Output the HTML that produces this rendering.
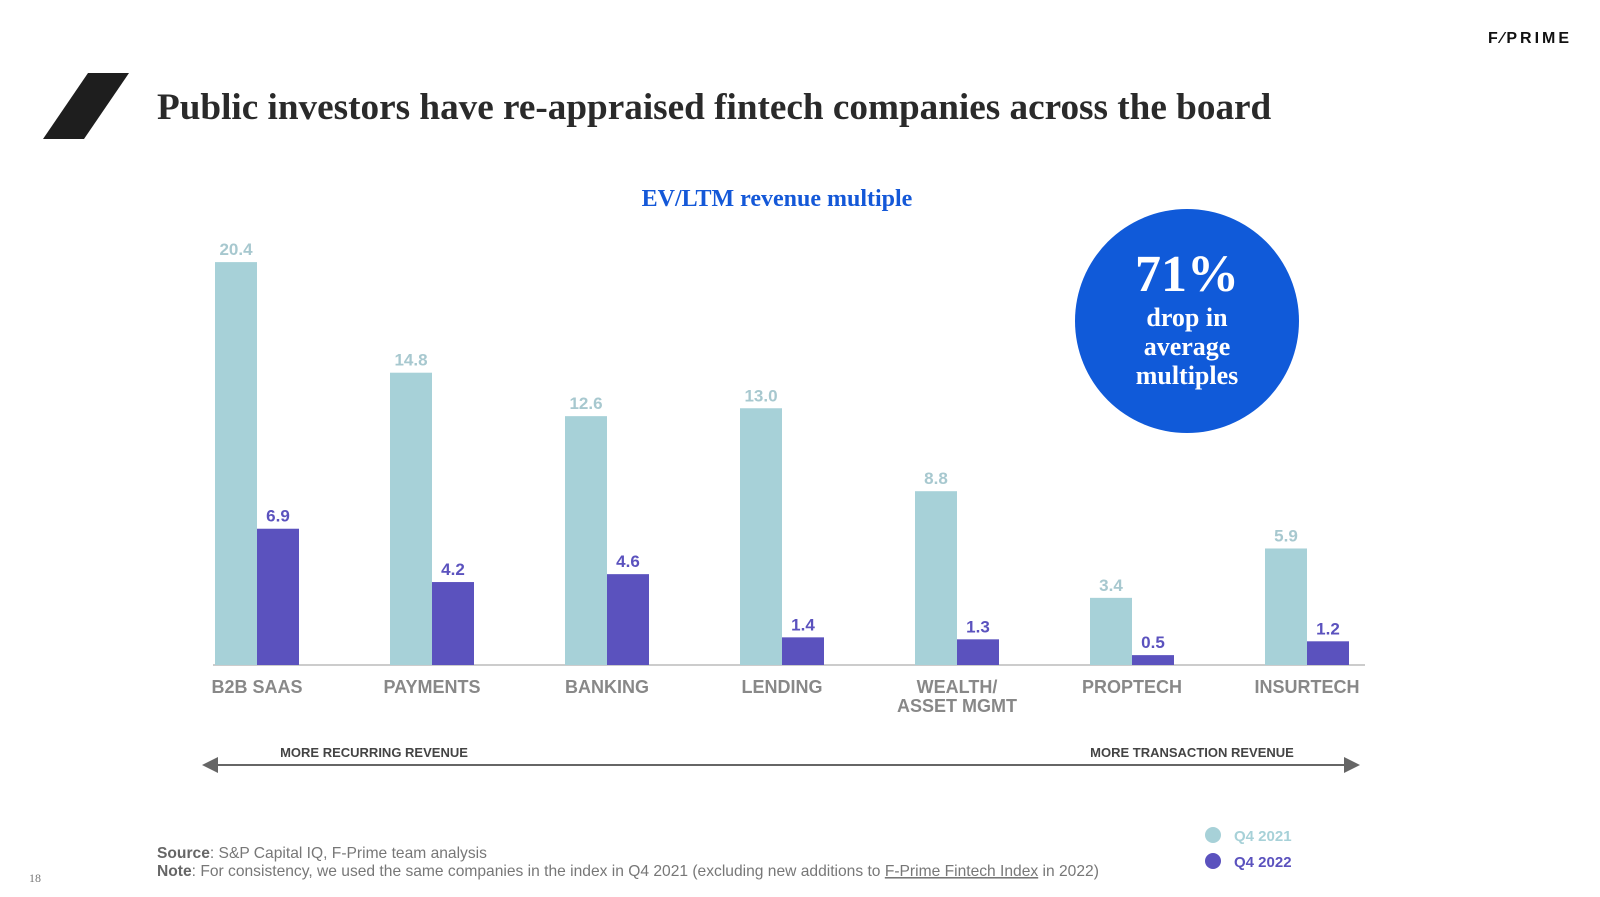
<!DOCTYPE html>
<html><head><meta charset="utf-8"><style>
body{margin:0;width:1600px;height:897px;background:#fff;overflow:hidden;font-family:"Liberation Sans",sans-serif}
svg{display:block}
</style></head><body>
<svg id="chart" width="1600" height="897" viewBox="0 0 1600 897">
<text x="1530" y="43" font-size="16" font-weight="bold" letter-spacing="3" fill="#111" text-anchor="middle">F⁄PRIME</text>
<polygon points="43,139 88,73 129,73 84,139" fill="#1e1e1e"/>
<text x="157" y="119" font-family="Liberation Serif,serif" font-size="37.2" font-weight="bold" fill="#2a2a2a">Public investors have re-appraised fintech companies across the board</text>
<text x="777" y="206" font-family="Liberation Serif,serif" font-size="24" font-weight="bold" fill="#1458d8" text-anchor="middle">EV/LTM revenue multiple</text>
<g>
<circle cx="1187" cy="321" r="112" fill="#105ad9"/>
<text x="1187" y="291" font-family="Liberation Serif,serif" font-size="52" font-weight="bold" fill="#fff" text-anchor="middle">71%</text>
<text font-family="Liberation Serif,serif" font-size="26" font-weight="bold" fill="#fff" text-anchor="middle"><tspan x="1187" y="326">drop in</tspan><tspan x="1187" y="355">average</tspan><tspan x="1187" y="384">multiples</tspan></text>
</g>
<g id="bars"></g>
<line x1="212" y1="765" x2="1350" y2="765" stroke="#666" stroke-width="2"/>
<polygon points="202,765 218,757 218,773" fill="#666"/>
<polygon points="1360,765 1344,757 1344,773" fill="#666"/>
<text x="374" y="757" font-size="13" font-weight="bold" fill="#444" text-anchor="middle">MORE RECURRING REVENUE</text>
<text x="1192" y="757" font-size="13" font-weight="bold" fill="#444" text-anchor="middle">MORE TRANSACTION REVENUE</text>
<g>
<circle cx="1213" cy="835" r="8" fill="#a7d1d8"/><text x="1234" y="841" font-size="15" font-weight="bold" fill="#a7d1d8">Q4 2021</text>
<circle cx="1213" cy="861" r="8" fill="#5b52be"/><text x="1234" y="867" font-size="15" font-weight="bold" fill="#5b52be">Q4 2022</text>
</g>
<text x="157" y="858" font-size="15.6" fill="#777"><tspan font-weight="bold" fill="#666">Source</tspan>: S&amp;P Capital IQ, F-Prime team analysis</text>
<text x="157" y="876" font-size="15.6" fill="#777"><tspan font-weight="bold" fill="#666">Note</tspan>: For consistency, we used the same companies in the index in Q4 2021 (excluding new additions to <tspan text-decoration="underline">F-Prime Fintech Index</tspan> in 2022)</text>
<text x="29" y="882" font-family="Liberation Serif,serif" font-size="12" fill="#777">18</text>
</svg>
<script>
const categories=["B2B SAAS","PAYMENTS","BANKING","LENDING","WEALTH/\nASSET MGMT","PROPTECH","INSURTECH"];
const q42021=[20.4,14.8,12.6,13.0,8.8,3.4,5.9];
const q42022=[6.9,4.2,4.6,1.4,1.3,0.5,1.2];
const baseY=665, scale=19.75, x0=257, step=175, bw=42;
const y=v=>baseY-v*scale;
const g=document.getElementById('bars');
const NS="http://www.w3.org/2000/svg";
function mk(t,a){const e=document.createElementNS(NS,t);for(const k in a)e.setAttribute(k,a[k]);g.appendChild(e);return e;}
const base=mk('line',{x1:213,x2:1365,y1:baseY,y2:baseY,stroke:'#ccc','stroke-width':2});


categories.forEach((c,i)=>{
 const cx=x0+i*step;
 const b1=mk('rect',{x:cx-bw,y:y(q42021[i]),width:bw,height:q42021[i]*scale,fill:'#a7d1d8'});
 
 
 const b2=mk('rect',{x:cx,y:y(q42022[i]),width:bw,height:q42022[i]*scale,fill:'#5b52be'});
 
 
 const l1=mk('text',{x:cx-bw/2,y:y(q42021[i])-7,'font-size':17,'font-weight':'bold',fill:'#a7c8cf','text-anchor':'middle'});
 l1.textContent=q42021[i].toFixed(1);
 
 
 const l2=mk('text',{x:cx+bw/2,y:y(q42022[i])-7,'font-size':17,'font-weight':'bold',fill:'#5b52be','text-anchor':'middle'});
 l2.textContent=q42022[i].toFixed(1);
 
 
 const parts=c.split('\n');
 parts.forEach((p,j)=>{
  const t=mk('text',{x:cx,y:693+j*19,'font-size':18,'font-weight':'bold',fill:'#888','text-anchor':'middle'});
  t.textContent=p;
  
  
 });
});
</script>
</body></html>
